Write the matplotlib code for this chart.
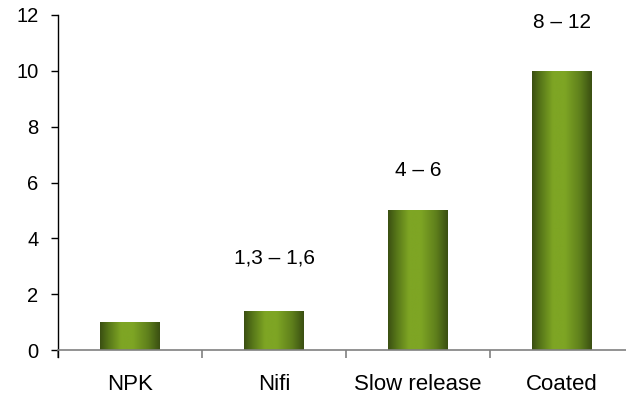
import matplotlib
matplotlib.use("Agg")
import matplotlib.pyplot as plt
import numpy as np
from matplotlib.colors import LinearSegmentedColormap

categories = ["NPK", "Nifi", "Slow release", "Coated"]
values = [1, 1.4, 5, 10]
range_labels = ["", "1,3 – 1,6", "4 – 6", "8 – 12"]
label_offsets_pt = [0, 38, 29, 35]
yticks = [0, 2, 4, 6, 8, 10, 12]

plt.rcParams['font.family'] = ['Liberation Sans', 'DejaVu Sans']

fig = plt.figure(figsize=(6.26, 3.99), dpi=100)
ax = fig.add_axes([58/626, 49/399, 576/626, 335/399])

cmap = LinearSegmentedColormap.from_list("bar", [
    (0.0, "#3a4f12"), (0.15, "#587819"), (0.35, "#7ea524"),
    (0.55, "#7ea524"), (0.8, "#5f801c"), (1.0, "#3a4f12")])

x = np.arange(len(categories))
width = 0.41
bars = ax.bar(x, values, width=width, facecolor="none", edgecolor="none", zorder=2)
grad = np.linspace(0, 1, 256).reshape(1, -1)
for b in bars:
    x0, y0 = b.get_x(), b.get_y()
    w, h = b.get_width(), b.get_height()
    im = ax.imshow(grad, cmap=cmap, aspect="auto", extent=[x0, x0 + w, y0, y0 + h],
                   zorder=2, interpolation="bilinear")
    im.set_clip_path(b)

for xi, v, lab, off in zip(x, values, range_labels, label_offsets_pt):
    if lab:
        ax.annotate(lab, (xi, v), xytext=(0, off), textcoords="offset points",
                    ha="center", va="center", fontsize=15)

ax.set_xlim(-0.5, len(categories) - 0.5)
ax.set_ylim(0, 12)
ax.set_yticks(yticks)
ax.set_xticks(x)
ax.set_xticklabels(categories)
ax.set_xticks(np.arange(len(categories) + 1) - 0.5, minor=True)

for s in ["top", "right"]:
    ax.spines[s].set_visible(False)
ax.spines["left"].set_color("black")
ax.spines["left"].set_linewidth(1.0)
ax.spines["left"].set_bounds(-0.25, 12)
ax.spines["bottom"].set_color("#808080")
ax.spines["bottom"].set_linewidth(1.2)
ax.spines["bottom"].set_position(("data", 0))

ax.tick_params(axis="y", direction="out", length=5, width=1, color="black",
               labelsize=14.5, pad=9)
ax.tick_params(axis="x", which="major", length=0, labelsize=16, pad=17)
ax.tick_params(axis="x", which="minor", direction="out", length=6, width=1.2, color="#808080")
ax.patch.set_alpha(0)

fig.savefig("out.png", dpi=100)
